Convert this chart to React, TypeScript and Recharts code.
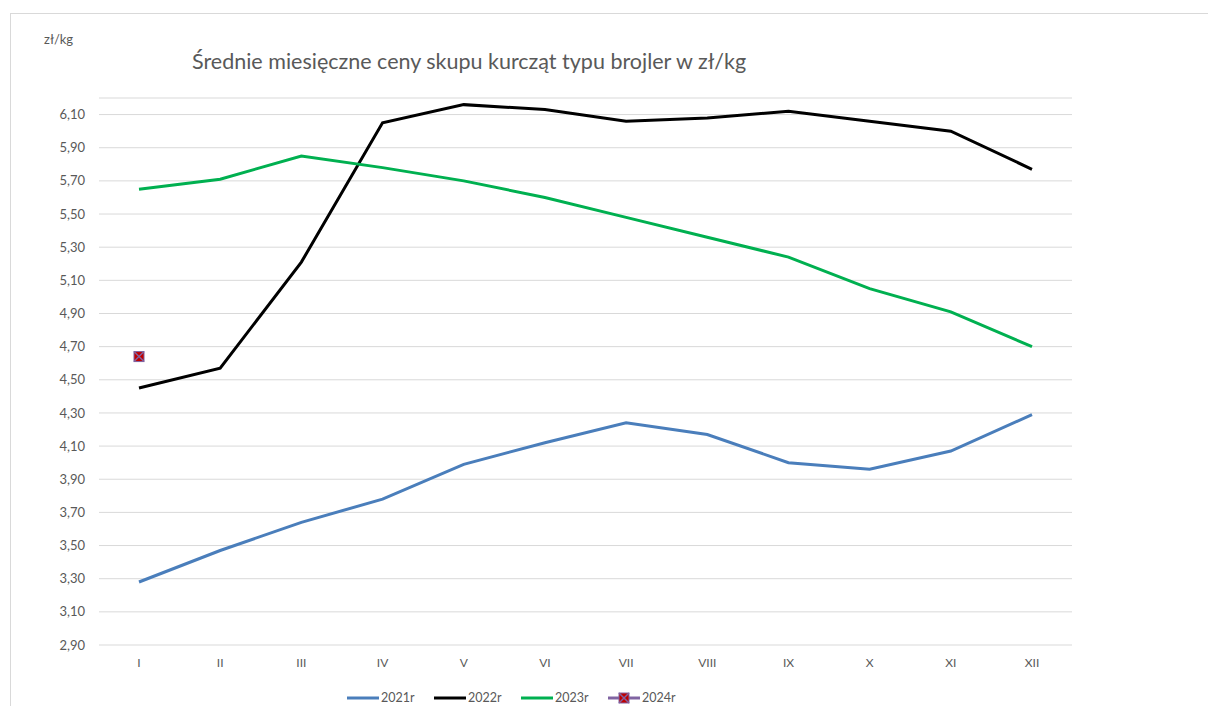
import { LineChart, Line, CartesianGrid, XAxis, YAxis } from 'recharts'

const months = ['I', 'II', 'III', 'IV', 'V', 'VI', 'VII', 'VIII', 'IX', 'X', 'XI', 'XII']
const prices2021 = [3.28, 3.47, 3.64, 3.78, 3.99, 4.12, 4.24, 4.17, 4.0, 3.96, 4.07, 4.29]
const prices2022 = [4.45, 4.57, 5.21, 6.05, 6.16, 6.13, 6.06, 6.08, 6.12, 6.06, 6.0, 5.77]
const prices2023 = [5.65, 5.71, 5.85, 5.78, 5.7, 5.6, 5.48, 5.36, 5.24, 5.05, 4.91, 4.7]
const prices2024: (number | null)[] = [4.64, null, null, null, null, null, null, null, null, null, null, null]
const yTicks = [2.9, 3.1, 3.3, 3.5, 3.7, 3.9, 4.1, 4.3, 4.5, 4.7, 4.9, 5.1, 5.3, 5.5, 5.7, 5.9, 6.1]

const series = [
  { key: 'y2021', name: '2021r', color: '#4a7ebb' },
  { key: 'y2022', name: '2022r', color: '#000000' },
  { key: 'y2023', name: '2023r', color: '#00b050' },
  { key: 'y2024', name: '2024r', color: '#8064a2' },
]

const data = months.map((m, i) => ({
  month: m,
  y2021: prices2021[i],
  y2022: prices2022[i],
  y2023: prices2023[i],
  y2024: prices2024[i],
}))

const FONT = 'Lato, "Liberation Sans", sans-serif'
const TEXT = '#595959'

function CrossMarker({ cx, cy }: any) {
  if (cx == null || cy == null) return null
  const s = 5
  return (
    <g>
      <rect x={cx - s} y={cy - s} width={s * 2} height={s * 2} fill="#c00000" stroke="#8064a2" strokeWidth={1} />
      <line x1={cx - s} y1={cy - s} x2={cx + s} y2={cy + s} stroke="#8064a2" strokeWidth={1.5} />
      <line x1={cx - s} y1={cy + s} x2={cx + s} y2={cy - s} stroke="#8064a2" strokeWidth={1.5} />
    </g>
  )
}

const fmt = (v: number) => v.toFixed(2).replace('.', ',')

export default function App() {
  return (
    <div style={{ position: 'absolute', left: 0, top: 0, width: 1208, height: 706, background: '#fff', fontFamily: FONT }}>
      <div style={{ position: 'absolute', left: 10, top: 13, right: 0, bottom: 0, borderLeft: '1px solid #d9d9d9', borderTop: '1px solid #d9d9d9' }} />
      <div style={{ position: 'absolute', left: 44, top: 31, fontSize: 13, color: TEXT }}>zł/kg</div>
      <div style={{ position: 'absolute', left: 192, top: 48, fontSize: 21.5, color: TEXT, whiteSpace: 'nowrap' }}>
        Średnie miesięczne ceny skupu kurcząt typu brojler w zł/kg
      </div>
      <div style={{ position: 'absolute', left: 0, top: 0 }}>
        <LineChart width={1208} height={706} data={data} margin={{ top: 98, right: 136, bottom: 31, left: 10 }}>
          <CartesianGrid vertical={false} stroke="#d9d9d9" strokeWidth={1} />
          <XAxis
            dataKey="month"
            axisLine={false}
            tickLine={false}
            tickSize={0}
            tickMargin={13}
            interval={0}
            padding={{ left: 40, right: 40 }}
            tick={{ fill: TEXT, fontSize: 12, fontFamily: FONT }}
          />
          <YAxis
            width={89}
            domain={[2.9, 6.2]}
            ticks={yTicks}
            interval={0}
            allowDataOverflow
            axisLine={false}
            tickLine={false}
            tickSize={0}
            tickMargin={14}
            tickFormatter={fmt}
            tick={{ fill: TEXT, fontSize: 13, fontFamily: FONT }}
          />
          {series.slice(0, 3).map((s) => (
            <Line
              key={s.key}
              dataKey={s.key}
              name={s.name}
              type="linear"
              stroke={s.color}
              strokeWidth={3}
              dot={false}
              activeDot={false}
              isAnimationActive={false}
            />
          ))}
          <Line
            dataKey="y2024"
            name="2024r"
            type="linear"
            stroke="#8064a2"
            strokeWidth={3}
            dot={<CrossMarker />}
            activeDot={false}
            isAnimationActive={false}
          />
        </LineChart>
      </div>
      <div style={{ position: 'absolute', top: 690, left: 347, display: 'flex', alignItems: 'center', fontSize: 12.5, color: TEXT }}>
        {series.map((s) => (
          <div key={s.key} style={{ display: 'flex', alignItems: 'center', width: 87 }}>
            <svg width={32} height={14} style={{ marginRight: 2 }}>
              <line x1={0} y1={7} x2={32} y2={7} stroke={s.color} strokeWidth={3} />
              {s.key === 'y2024' && <CrossMarker cx={16} cy={7} />}
            </svg>
            <span>{s.name}</span>
          </div>
        ))}
      </div>
    </div>
  )
}
